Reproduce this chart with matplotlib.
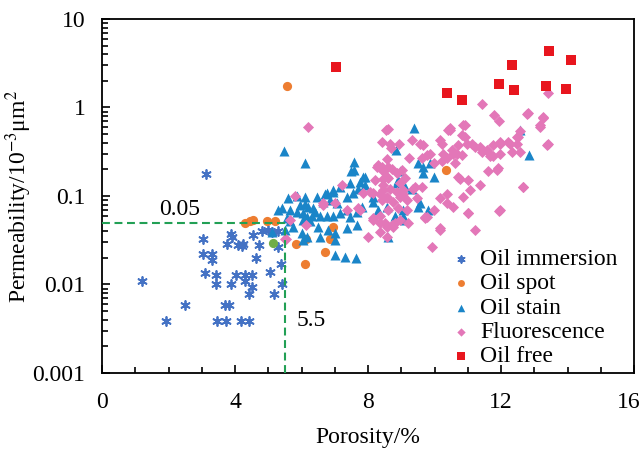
import numpy as np
import matplotlib
matplotlib.use('Agg')
import matplotlib.pyplot as plt
from matplotlib.ticker import FixedLocator, LogLocator, FuncFormatter, MultipleLocator

plt.rcParams['font.family'] = ['Liberation Serif', 'DejaVu Serif']
plt.rcParams['mathtext.fontset'] = 'stix'

# Oil immersion (porosity %, permeability 10^-3 um^2)
immersion_x = [3.12, 1.19, 1.92, 2.5, 3.03, 3.04, 3.31, 3.3, 3.1, 3.43, 3.42, 3.71, 3.83, 3.45, 3.73,
               4.17, 4.43, 3.88, 3.92, 3.75, 4.1, 4.25, 4.21, 4.55, 4.81, 4.73, 4.63, 5.05, 5.17, 5.38,
               5.4, 5.3, 4.02, 4.3, 4.52, 3.89, 4.31, 4.52, 4.43, 4.98, 5.1, 5.3]
immersion_y = [0.177, 0.011, 0.0039, 0.0058, 0.033, 0.022, 0.022, 0.019, 0.0136, 0.0128, 0.010, 0.0058,
               0.0058, 0.0039, 0.0039, 0.0039, 0.0039, 0.037, 0.034, 0.029, 0.028, 0.029, 0.027, 0.036,
               0.040, 0.028, 0.0198, 0.014, 0.0078, 0.0169, 0.0101, 0.0267, 0.0128, 0.0128, 0.0128,
               0.0101, 0.011, 0.0094, 0.0078, 0.041, 0.039, 0.040]

# Oil spot
spot_x = [5.55, 4.3, 4.55, 4.45, 4.95, 5.2, 5.82, 6.1, 6.14, 6.71, 6.94, 6.86, 10.34]
spot_y = [1.75, 0.050, 0.054, 0.052, 0.052, 0.052, 0.029, 0.0169, 0.0325, 0.0234, 0.045, 0.033, 0.197]

# single green point
green_x = [5.14]
green_y = [0.0297]

# Oil stain
stain_x = [9.37, 5.48, 6.1, 7.58, 8.84, 7.49, 7.84, 6.94, 6.71, 7.59, 7.91, 7.76, 7.46, 7.16, 6.96,
           6.76, 6.46, 6.1, 5.86, 5.6, 5.4, 5.65, 5.86, 6.05, 6.31, 6.56, 6.76, 6.96, 7.16, 5.95, 6.2,
           6.36, 6.66, 6.86, 7.06, 7.36, 7.56, 7.71, 7.91, 7.36, 7.46, 7.66, 7.81, 8.16, 8.16, 8.31,
           8.56, 5.5, 5.75, 6.0, 6.05, 6.26, 6.5, 6.56, 6.81, 7.0, 7.0, 7.36, 7.66, 7.0, 7.31, 7.64,
           8.61, 9.06, 9.11, 5.3, 5.55, 6.16, 6.41, 5.1, 5.65, 6.05, 6.16, 6.1, 12.57, 12.85, 9.51,
           9.66, 9.86, 9.97, 9.66, 9.11, 9.31, 8.91, 8.96, 9.51, 9.81, 9.56, 8.81, 9.06, 8.86]
stain_y = [0.58, 0.324, 0.234, 0.24, 0.33, 0.19, 0.165, 0.117, 0.105, 0.197, 0.165, 0.145, 0.139,
           0.127, 0.112, 0.108, 0.098, 0.098, 0.10, 0.094, 0.073, 0.0695, 0.0657, 0.0636, 0.060, 0.060,
           0.060, 0.060, 0.0636, 0.079, 0.076, 0.073, 0.086, 0.090, 0.083, 0.098, 0.107, 0.121, 0.133,
           0.0695, 0.058, 0.066, 0.076, 0.098, 0.086, 0.0695, 0.076, 0.0413, 0.045, 0.0385, 0.054,
           0.052, 0.045, 0.0348, 0.041, 0.0385, 0.0318, 0.044, 0.047, 0.0215, 0.0205, 0.0198, 0.0348,
           0.0695, 0.054, 0.0695, 0.056, 0.058, 0.066, 0.0395, 0.052, 0.0318, 0.0348, 0.082, 0.56,
           0.29, 0.234, 0.21, 0.234, 0.165, 0.18, 0.127, 0.121, 0.151, 0.19, 0.076, 0.0695, 0.083,
           0.060, 0.058, 0.139]

# Fluorescence
fluo_x = [6.19, 8.59, 8.41, 8.93, 8.69, 9.24, 9.66, 9.86, 9.97, 10.17, 10.42, 8.26, 8.46, 8.71, 8.56,
          8.16, 5.8, 6.66, 7.0, 7.21, 7.36, 7.71, 7.86, 8.06, 8.56, 8.96, 9.36, 9.61, 8.01, 8.16, 8.36,
          8.71, 8.96, 9.21, 8.36, 8.56, 9.71, 9.97, 10.17, 9.92, 10.37, 5.53, 6.14, 6.66, 5.65, 5.5,
          7.76, 8.16, 8.36, 8.51, 8.76, 8.31, 8.61, 8.46, 8.86, 9.11, 8.21, 8.46, 8.66, 8.86, 9.06,
          8.36, 8.56, 8.76, 8.91, 9.16, 8.66, 8.53, 9.31, 9.61, 10.22, 10.47, 10.87, 10.92, 10.72,
          10.52, 10.37, 10.22, 10.27, 10.67, 10.82, 10.62, 11.12, 11.37, 11.57, 11.77, 11.97, 12.22,
          12.47, 12.77, 13.27, 13.17, 13.42, 12.57, 12.32, 11.97, 10.77, 11.02, 11.37, 11.07, 10.87,
          10.72, 11.62, 11.87, 11.92, 12.67, 11.97, 11.22, 11.02, 10.37, 10.17, 10.57, 10.17, 9.71,
          8.56, 8.41, 8.61, 8.46, 8.41, 8.61, 8.81, 8.56, 9.16, 9.46, 9.76, 9.41, 8.96, 9.06, 13.4,
          11.42, 11.79, 11.95, 12.82, 13.27, 13.17, 13.37, 12.65, 11.95, 11.02, 10.47, 10.92, 10.82,
          12.57, 12.52, 12.47, 12.27, 11.97, 11.77, 11.62, 11.67, 11.42, 11.22, 10.97, 10.57, 9.56,
          9.76, 9.01]
fluo_y = [0.597, 0.57, 0.41, 0.39, 0.35, 0.27, 0.38, 0.30, 0.234, 0.43, 0.55, 0.21, 0.19, 0.20, 0.165,
          0.107, 0.10, 0.083, 0.083, 0.133, 0.0695, 0.073, 0.107, 0.112, 0.098, 0.098, 0.121, 0.127,
          0.0348, 0.054, 0.050, 0.047, 0.054, 0.050, 0.0395, 0.0348, 0.058, 0.0695, 0.041, 0.0267,
          0.083, 0.0325, 0.047, 0.079, 0.054, 0.033, 0.0695, 0.056, 0.060, 0.050, 0.045, 0.224, 0.21,
          0.155, 0.18, 0.16, 0.151, 0.133, 0.121, 0.112, 0.104, 0.104, 0.094, 0.086, 0.073, 0.0695,
          0.39, 0.55, 0.43, 0.27, 0.39, 0.55, 0.63, 0.46, 0.38, 0.33, 0.27, 0.25, 0.30, 0.30, 0.29,
          0.234, 0.39, 0.36, 0.33, 0.28, 0.39, 0.41, 0.46, 0.85, 0.79, 0.63, 0.39, 0.316, 0.316, 0.30,
          0.155, 0.151, 0.133, 0.117, 0.098, 0.165, 0.19, 0.197, 0.205, 0.127, 0.0695, 0.041, 0.064,
          0.104, 0.094, 0.076, 0.044, 0.056, 0.26, 0.21, 0.16, 0.117, 0.090, 0.0695, 0.050, 0.045,
          0.090, 0.094, 0.058, 0.127, 0.139, 0.117, 1.45, 1.1, 0.83, 0.70, 0.87, 0.77, 0.60, 0.38,
          0.127, 0.068, 0.065, 0.58, 0.63, 0.49, 0.54, 0.47, 0.39, 0.39, 0.41, 0.38, 0.316, 0.28,
          0.316, 0.36, 0.39, 0.30, 0.39, 0.29, 0.197]

# Oil free
free_x = [7.03, 10.39, 10.83, 11.93, 12.34, 12.4, 13.45, 13.35, 13.94, 14.11]
free_y = [2.89, 1.47, 1.22, 1.83, 3.05, 1.58, 4.3, 1.75, 1.62, 3.41]

cutoff_perm = 0.05
cutoff_poro = 5.5

fig = plt.figure(figsize=(6.44, 4.53), dpi=100)
ax = fig.add_axes([0.1584, 0.1766, 0.8261, 0.7815])

ax.scatter(immersion_x, immersion_y, marker=(6, 2, 0), s=42, color='#4472C4', linewidths=1.3,
           label='Oil immersion', zorder=3)
ax.scatter(spot_x, spot_y, marker='o', s=44, color='#ED7D31', linewidths=0, label='Oil spot', zorder=3)
ax.scatter(green_x, green_y, marker='o', s=44, color='#70AD47', linewidths=0, zorder=3)
ax.scatter(stain_x, stain_y, marker='^', s=52, color='#1A85C8', linewidths=0, label='Oil stain', zorder=3)
ax.scatter(fluo_x, fluo_y, marker='D', s=32, color='#E377B8', linewidths=0, label='Fluorescence', zorder=3)
ax.scatter(free_x, free_y, marker='s', s=54, color='#E8161E', linewidths=0, label='Oil free', zorder=3)

# cut-off lines
ax.plot([0, cutoff_poro], [cutoff_perm, cutoff_perm], color='#22A055', lw=1.5, dashes=(3.8, 2.2), zorder=4)
ax.plot([cutoff_poro, cutoff_poro], [0.001, cutoff_perm], color='#22A055', lw=1.5, dashes=(3.8, 2.2), zorder=4)
ax.text(1.72, 0.071, '0.05', fontsize=17, ha='left', va='center')
ax.text(5.85, 0.0039, '5.5', fontsize=17, ha='left', va='center')

ax.set_yscale('log')
ax.set_xlim(0, 16)
ax.set_ylim(0.001, 10)
ax.xaxis.set_major_locator(MultipleLocator(4))
ax.xaxis.set_minor_locator(MultipleLocator(1))
# last x label (16) is drawn separately, a bit to the left, so it fits in the figure
ax.xaxis.set_major_formatter(FuncFormatter(lambda v, p: '' if v >= 16 else '%g' % v))
ax.yaxis.set_major_locator(FixedLocator([0.001, 0.01, 0.1, 1, 10]))
ax.yaxis.set_minor_locator(LogLocator(base=10, subs=np.arange(2, 10)))
ax.yaxis.set_major_formatter(FuncFormatter(lambda v, p: '%g' % v))
ax.tick_params(which='both', direction='in', labelsize=17, width=1.2)
ax.tick_params(which='major', length=6)
ax.tick_params(which='minor', length=4)
ax.tick_params(axis='y', pad=12)
ax.tick_params(axis='x', pad=14)
for sp in ax.spines.values():
    sp.set_linewidth(1.3)
ax.annotate('16', xy=(16, 0), xycoords=('data', 'axes fraction'), xytext=(-4, -14),
            textcoords='offset points', ha='center', va='top', fontsize=17)

ax.set_xlabel('Porosity/%', fontsize=17, labelpad=10)
ax.set_ylabel(r'Permeability/10$^{-3}$μm$^{2}$', fontsize=17)
ax.yaxis.set_label_coords(-0.128, 0.5)

ax.legend(loc='upper left', bbox_to_anchor=(0.64, 0.385), frameon=False, fontsize=17,
          handlelength=0.6, handletextpad=0.5, labelspacing=0.12, borderpad=0, markerscale=0.75)

fig.savefig('out.png', dpi=100)
